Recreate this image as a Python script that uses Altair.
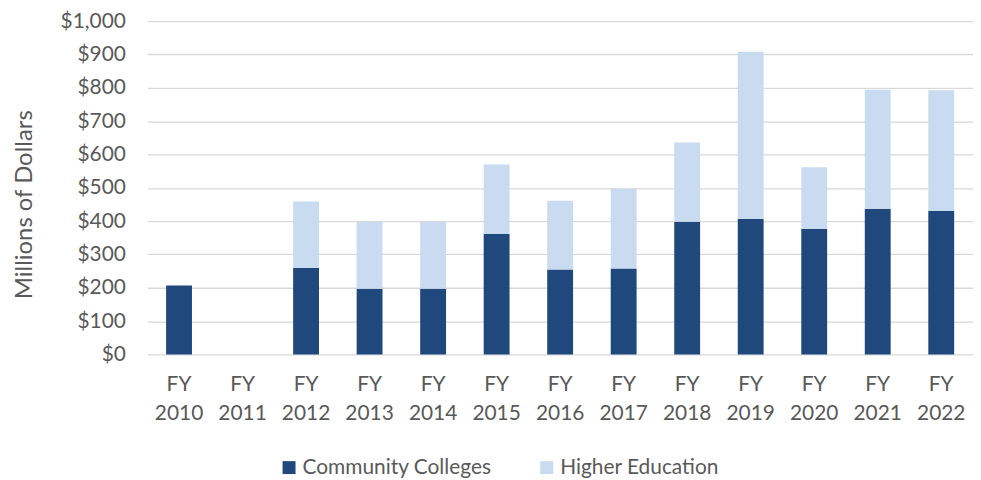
import altair as alt
import pandas as pd

years = ["FY 2010", "FY 2011", "FY 2012", "FY 2013", "FY 2014", "FY 2015", "FY 2016",
         "FY 2017", "FY 2018", "FY 2019", "FY 2020", "FY 2021", "FY 2022"]
community_colleges = [207, 0, 259, 197, 197, 362, 255, 258, 398, 407, 377, 437, 431]
higher_education = [0, 0, 200, 200, 200, 208, 206, 239, 238, 501, 185, 357, 362]
series = ["Community Colleges", "Higher Education"]
colors = ["#1F497D", "#C9DBF0"]

rows = []
for i, y in enumerate(years):
    rows.append({"year": y, "series": series[0], "value": community_colleges[i], "ord": 0})
    rows.append({"year": y, "series": series[1], "value": higher_education[i], "ord": 1})
df = pd.DataFrame(rows)

FONT = "Lato"
TXT = "#595959"

chart = alt.Chart(df).mark_bar(size=26).encode(
    x=alt.X("year:N", sort=years, title=None,
            scale=alt.Scale(paddingInner=0, paddingOuter=0),
            axis=alt.Axis(labelExpr="split(datum.value, ' ')", labelAngle=0,
                          labelFont=FONT, labelFontSize=21, labelColor=TXT,
                          labelLineHeight=29, labelPadding=19, ticks=False,
                          domain=False, grid=False)),
    y=alt.Y("value:Q", stack="zero", title="Millions of Dollars",
            scale=alt.Scale(domain=[0, 1000], nice=False),
            axis=alt.Axis(values=list(range(0, 1001, 100)), format="$,.0f",
                          labelFont=FONT, labelFontSize=21, labelColor=TXT,
                          labelPadding=22, ticks=False, domain=False,
                          gridColor="#D9D9D9", gridWidth=1.3,
                          titleFont=FONT, titleFontSize=24, titleColor=TXT,
                          titleFontWeight="normal", titleX=-123, titleY=184,
                          titleAngle=270, titleAlign="center", titleBaseline="middle")),
    color=alt.Color("series:N", sort=series,
                    scale=alt.Scale(domain=series, range=colors),
                    legend=alt.Legend(title=None, orient="none", direction="horizontal",
                                      legendX=132, legendY=438, symbolType="square",
                                      symbolSize=169, symbolStrokeWidth=0,
                                      labelFont=FONT, labelFontSize=21, labelColor=TXT,
                                      labelLimit=0, columnPadding=44, labelOffset=3)),
    order=alt.Order("ord:Q", sort="ascending"),
).properties(
    width=830, height=335,
    autosize=alt.AutoSizeParams(type="none"),
    padding={"left": 140, "top": 12, "right": 0, "bottom": 125},
).configure_view(stroke=None)

chart.save("out.html", embed_options={"renderer": "svg", "actions": False})
